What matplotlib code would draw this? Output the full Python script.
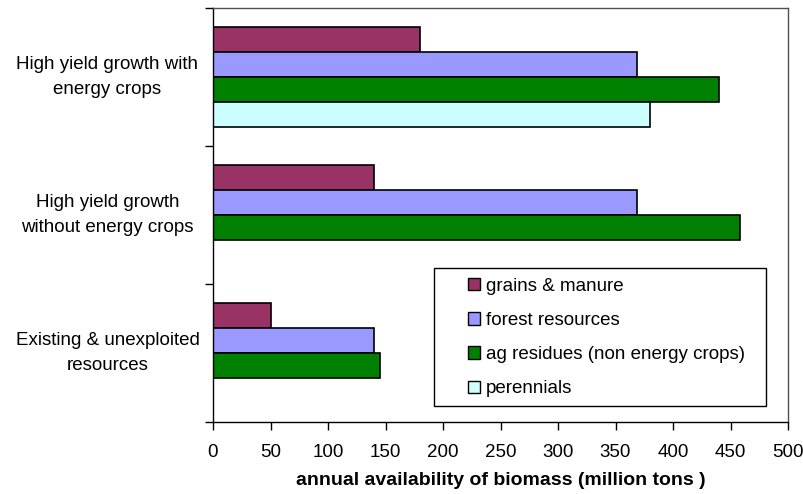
import numpy as np
import matplotlib.pyplot as plt
from matplotlib.patches import Patch, Rectangle

# scenarios, bottom to top as drawn
scenarios = ["Existing & unexploited\nresources",
             "High yield growth\nwithout energy crops",
             "High yield growth with\nenergy crops"]
series = ["grains & manure", "forest resources",
          "ag residues (non energy crops)", "perennials"]
grains = [50, 140, 180]
forest = [140, 369, 369]
ag_residues = [145, 458, 440]
perennials = [0, 0, 380]
colors = ["#993366", "#9999FF", "#008000", "#CCFFFF"]
xticks = [0, 50, 100, 150, 200, 250, 300, 350, 400, 450, 500]

plt.rcParams['font.family'] = ['Liberation Sans', 'DejaVu Sans']

fig = plt.figure(figsize=(8.04, 4.94), dpi=100)
ax = fig.add_axes([213/804, 1-422/494, 575/804, 414/494])

h = 0.181  # bar height in group units
y = np.arange(len(scenarios))
offsets = [1.5*h, 0.5*h, -0.5*h, -1.5*h]
for vals, off, c, lab in zip([grains, forest, ag_residues, perennials], offsets, colors, series):
    v = np.array(vals, dtype=float)
    m = v > 0
    ax.barh(y[m] + off, v[m], height=h, color=c, edgecolor="black", linewidth=1.2, label=lab)

ax.set_xlim(0, 500)
ax.set_ylim(-0.5, len(scenarios) - 0.5)
ax.set_xticks(xticks)
ax.set_xticklabels([str(t) for t in xticks], fontsize=13.5)
ax.tick_params(axis='x', length=6, width=1, pad=10)

ax.set_yticks(np.arange(-0.5, len(scenarios)))
ax.set_yticklabels([])
ax.tick_params(axis='y', which='major', length=6, width=1)
ax.set_yticks(y, minor=True)
ax.set_yticklabels(scenarios, minor=True, fontsize=13.5, ha='center', va='center',
                   linespacing=1.55)
ax.tick_params(axis='y', which='minor', length=0, pad=76)

for s in ['top', 'right']:
    ax.spines[s].set_color('#505050')
for s in ax.spines.values():
    s.set_linewidth(1)

ax.set_xlabel("annual availability of biomass (million tons )", fontsize=14,
              fontweight='bold', labelpad=8)

# legend box drawn separately so the entries can sit inset from its left edge
ax.add_patch(Rectangle((0.384, 0.039), 0.578, 0.333, transform=ax.transAxes,
                       facecolor='white', edgecolor='black', linewidth=1, zorder=4))
handles = [Patch(facecolor=c, edgecolor='black', linewidth=1) for c in colors]
leg = ax.legend(handles, series, loc='upper left', bbox_to_anchor=(0.435, 0.360),
                fontsize=13.5, frameon=False, handlelength=0.65, handleheight=0.65,
                handletextpad=0.3, labelspacing=0.92, borderpad=0.25, borderaxespad=0)
leg.set_zorder(5)

fig.savefig("out.png", dpi=100)
